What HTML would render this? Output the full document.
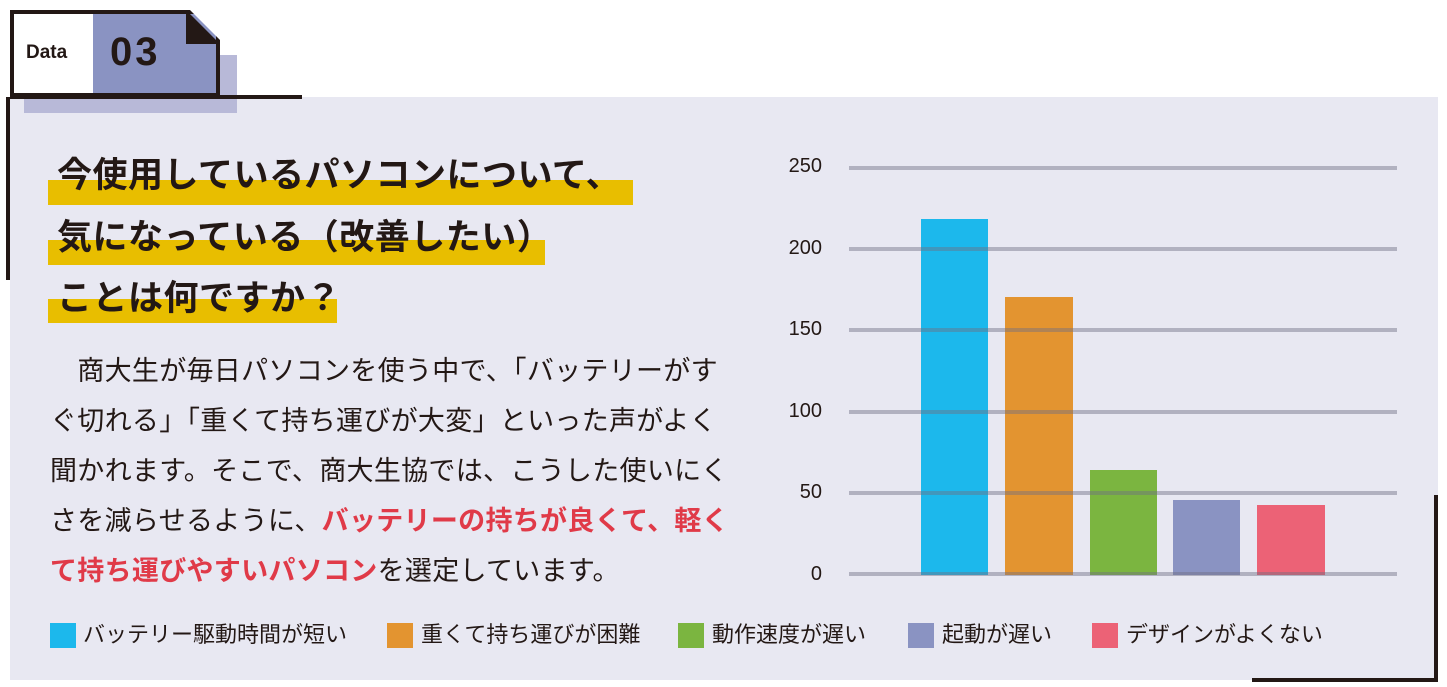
<!DOCTYPE html>
<html><head><meta charset="utf-8"><style>
body{margin:0;width:1447px;height:687px;background:#fff;position:relative;overflow:hidden;font-family:"Liberation Sans","Noto Sans CJK JP",sans-serif;color:#231815}
.a{position:absolute}
.hl{position:absolute;background:#e8be00}
.t{position:absolute;font-size:35px;font-weight:bold;white-space:nowrap;line-height:1;letter-spacing:0.5px}
.b{position:absolute;left:50px;font-size:27px;white-space:nowrap;line-height:1;letter-spacing:0.3px}
.r{color:#e03a48;font-weight:bold}
.g{position:absolute;left:849px;width:548px;height:4px;background:rgba(110,110,130,0.45)}
.y{position:absolute;left:760px;width:62px;text-align:right;font-size:20px;line-height:1}
.sq{position:absolute;top:623px;width:26px;height:25px}
.lg{position:absolute;top:624px;font-size:22px;line-height:1;white-space:nowrap}
</style></head><body>
<div class="a" style="left:10px;top:97px;width:1428px;height:583px;background:#e8e8f2"></div>
<div class="a" style="left:24px;top:55px;width:213px;height:58px;background:#b8b9d8"></div>
<div class="a" style="left:10px;top:10px;width:210px;height:87px;background:#fff;border:4px solid #231815;box-sizing:border-box"></div>
<div class="a" style="left:93px;top:14px;width:123px;height:79px;background:#8a93c2"></div>
<svg class="a" style="left:180px;top:8px" width="45" height="40"><polygon points="6,2 40,36 6,36" fill="#231815"/><polygon points="0,0 8,0 44,36 44,0" fill="#fff"/></svg>
<div class="a" style="left:26px;top:42px;font-size:19px;font-weight:bold">Data</div>
<div class="a" style="left:110px;top:30px;font-size:40px;font-weight:bold;letter-spacing:3px">03</div>
<div class="a" style="left:10px;top:95px;width:292px;height:4px;background:#231815"></div>
<div class="a" style="left:6px;top:97px;width:4px;height:183px;background:#231815"></div>
<div class="a" style="left:1434px;top:495px;width:4px;height:186px;background:#231815"></div>
<div class="a" style="left:1252px;top:678px;width:186px;height:4px;background:#231815"></div>

<div class="hl" style="left:48px;top:180px;width:585px;height:25px"></div>
<div class="hl" style="left:48px;top:240px;width:497px;height:25px"></div>
<div class="hl" style="left:48px;top:299px;width:289px;height:24px"></div>
<div class="t" style="left:57px;top:158px">今使用しているパソコンについて、</div>
<div class="t" style="left:57px;top:220px">気になっている（改善したい）</div>
<div class="t" style="left:57px;top:281px">ことは何ですか？</div>

<div class="b" style="top:358px">　商大生が毎日パソコンを使う中で、「バッテリーがす</div>
<div class="b" style="top:408px">ぐ切れる」「重くて持ち運びが大変」といった声がよく</div>
<div class="b" style="top:458px">聞かれます。そこで、商大生協では、こうした使いにく</div>
<div class="b" style="top:508px">さを減らせるように、<span class="r">バッテリーの持ちが良くて、軽く</span></div>
<div class="b" style="top:558px"><span class="r">て持ち運びやすいパソコン</span>を選定しています。</div>

<div class="a" style="left:921px;top:219px;width:67px;height:356px;background:#1cb8ec"></div>
<div class="a" style="left:1005px;top:297px;width:68px;height:278px;background:#e39430"></div>
<div class="a" style="left:1090px;top:470px;width:67px;height:105px;background:#7bb540"></div>
<div class="a" style="left:1173px;top:500px;width:67px;height:75px;background:#8a93c2"></div>
<div class="a" style="left:1257px;top:505px;width:68px;height:70px;background:#ec6276"></div>
<div class="g" style="top:166px"></div>
<div class="g" style="top:247px"></div>
<div class="g" style="top:328px"></div>
<div class="g" style="top:410px"></div>
<div class="g" style="top:491px"></div>
<div class="g" style="top:572px"></div>
<div class="y" style="top:156px">250</div>
<div class="y" style="top:238px">200</div>
<div class="y" style="top:319px">150</div>
<div class="y" style="top:401px">100</div>
<div class="y" style="top:482px">50</div>
<div class="y" style="top:564px">0</div>

<div class="sq" style="left:50px;background:#1cb8ec"></div><div class="lg" style="left:83px">バッテリー駆動時間が短い</div>
<div class="sq" style="left:387px;background:#e39430"></div><div class="lg" style="left:421px">重くて持ち運びが困難</div>
<div class="sq" style="left:678px;background:#7bb540"></div><div class="lg" style="left:712px">動作速度が遅い</div>
<div class="sq" style="left:908px;background:#8a93c2"></div><div class="lg" style="left:942px">起動が遅い</div>
<div class="sq" style="left:1092px;background:#ec6276"></div><div class="lg" style="left:1126px">デザインがよくない</div>
</body></html>
